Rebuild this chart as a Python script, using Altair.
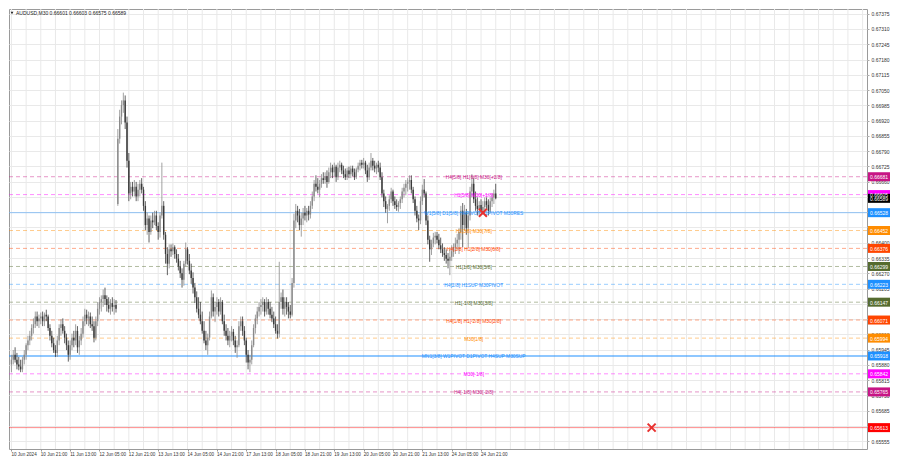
import altair as alt
import pandas as pd

# ---------------- data (prices in points of 0.00001, one bar per hour) ----------------
HEADER_TEXT = "AUDUSD,M30  0.66601 0.66603 0.66575 0.66589"

OPEN_PTS = [
    65882, 65902, 65923, 65902, 65882, 65873, 65861, 65902, 65923, 65964,
    65984, 66004, 66037, 66053, 66086, 66066, 66078, 66086, 66066, 66094,
    66086, 66037, 66004, 65972, 65943, 65931, 65984, 66037, 66053, 66025,
    65996, 65964, 65923, 65964, 65996, 65984, 66025, 65955, 65984, 66013,
    66066, 66094, 66078, 66086, 66053, 66045, 65996, 66066, 66119, 66148,
    66160, 66176, 66160, 66135, 66119, 66143, 66127, 66135, 66565, 66843,
    66937, 66986, 67006, 66912, 66749, 66610, 66638, 66618, 66638, 66597,
    66626, 66651, 66626, 66557, 66475, 66503, 66446, 66495, 66487, 66516,
    66471, 66446, 66516, 66557, 66434, 66352, 66311, 66372, 66364, 66381,
    66352, 66332, 66299, 66270, 66242, 66311, 66372, 66323, 66282, 66250,
    66209, 66168, 66119, 66094, 66066, 66025, 65984, 65964, 65996, 66086,
    66168, 66107, 66127, 66148, 66107, 66148, 66066, 66025, 66004, 65984,
    66004, 66021, 65984, 65955, 65964, 66045, 66066, 66025, 65984, 65923,
    65890, 65902, 65964, 66037, 66078, 66107, 66127, 66135, 66148, 66107,
    66148, 66119, 66094, 66078, 66053, 66025, 66013, 66148, 66168, 66119,
    66148, 66127, 66107, 66094, 66229, 66495, 66536, 66516, 66475, 66503,
    66528, 66516, 66536, 66520, 66557, 66597, 66651, 66638, 66626, 66651,
    66675, 66667, 66683, 66659, 66700, 66720, 66700, 66724, 66679, 66720,
    66732, 66708, 66692, 66679, 66708, 66692, 66716, 66700, 66679, 66712,
    66728, 66741, 66732, 66741, 66708, 66679, 66720, 66749, 66728, 66716,
    66732, 66720, 66679, 66610, 66577, 66544, 66557, 66585, 66618, 66577,
    66561, 66552, 66569, 66585, 66618, 66634, 66651, 66659, 66667, 66626,
    66585, 66536, 66503, 66495, 66577, 66626, 66610, 66495, 66413, 66372,
    66397, 66422, 66430, 66413, 66389, 66372, 66356, 66348, 66332, 66323,
    66340, 66364, 66381, 66397, 66413, 66446, 66536, 66475, 66528, 66462,
    66516, 66618, 66651, 66585, 66557, 66544, 66561, 66536, 66552, 66577,
    66561, 66536, 66577, 66593, 66610,
]
HIGH_PTS = [
    65923, 65943, 65955, 65931, 65914, 65902, 65914, 65943, 65972, 66004,
    66025, 66053, 66078, 66107, 66107, 66094, 66103, 66107, 66103, 66115,
    66094, 66053, 66025, 65996, 65964, 66004, 66053, 66074, 66078, 66045,
    66013, 65984, 65984, 66013, 66025, 66053, 66045, 66004, 66037, 66086,
    66119, 66115, 66107, 66103, 66086, 66066, 66086, 66148, 66168, 66176,
    66201, 66209, 66176, 66168, 66160, 66168, 66160, 66156, 66884, 66966,
    67006, 67039, 67027, 66937, 66782, 66659, 66659, 66667, 66659, 66651,
    66667, 66675, 66638, 66577, 66528, 66516, 66516, 66528, 66536, 66536,
    66487, 66528, 66741, 66577, 66446, 66381, 66393, 66393, 66397, 66389,
    66372, 66352, 66323, 66291, 66323, 66401, 66381, 66352, 66311, 66274,
    66229, 66193, 66168, 66148, 66107, 66066, 66025, 66013, 66107, 66197,
    66184, 66148, 66168, 66160, 66168, 66156, 66094, 66053, 66037, 66025,
    66045, 66033, 66004, 65984, 66066, 66086, 66086, 66045, 65996, 65943,
    65923, 65984, 66053, 66094, 66127, 66148, 66160, 66168, 66160, 66168,
    66160, 66148, 66127, 66107, 66086, 66053, 66319, 66188, 66201, 66168,
    66168, 66148, 66135, 66250, 66524, 66565, 66557, 66544, 66528, 66548,
    66557, 66548, 66557, 66577, 66618, 66667, 66687, 66675, 66667, 66692,
    66700, 66700, 66708, 66720, 66741, 66732, 66741, 66732, 66741, 66749,
    66741, 66728, 66716, 66720, 66724, 66728, 66728, 66716, 66720, 66741,
    66753, 66753, 66761, 66749, 66732, 66741, 66782, 66761, 66749, 66741,
    66749, 66741, 66700, 66626, 66597, 66565, 66602, 66634, 66626, 66597,
    66585, 66577, 66597, 66634, 66651, 66667, 66675, 66687, 66687, 66638,
    66597, 66557, 66520, 66597, 66647, 66671, 66618, 66516, 66430, 66413,
    66442, 66446, 66446, 66438, 66422, 66397, 66381, 66372, 66356, 66372,
    66389, 66397, 66422, 66438, 66462, 66557, 66569, 66561, 66544, 66528,
    66638, 66692, 66675, 66618, 66593, 66577, 66585, 66577, 66593, 66593,
    66585, 66593, 66610, 66626, 66651,
]
LOW_PTS = [
    65849, 65882, 65890, 65861, 65857, 65849, 65849, 65882, 65902, 65943,
    65964, 65984, 66013, 66037, 66045, 66037, 66053, 66045, 66045, 66066,
    66025, 65984, 65955, 65931, 65914, 65914, 65964, 66004, 66013, 65972,
    65943, 65894, 65902, 65943, 65955, 65964, 65931, 65923, 65964, 65996,
    66045, 66053, 66045, 66037, 66025, 65976, 65984, 66045, 66094, 66107,
    66127, 66135, 66107, 66103, 66094, 66107, 66094, 66103, 66557, 66822,
    66904, 66953, 66884, 66720, 66577, 66585, 66597, 66597, 66577, 66577,
    66597, 66610, 66536, 66454, 66434, 66401, 66434, 66462, 66475, 66454,
    66413, 66422, 66503, 66413, 66311, 66262, 66291, 66340, 66348, 66332,
    66315, 66282, 66250, 66209, 66217, 66299, 66307, 66266, 66225, 66184,
    66143, 66103, 66078, 66053, 66013, 65972, 65943, 65923, 65984, 66078,
    66086, 66062, 66094, 66086, 66094, 66053, 66004, 65984, 65964, 65955,
    65980, 65964, 65931, 65910, 65955, 66025, 66004, 65964, 65890, 65861,
    65849, 65882, 65955, 66013, 66053, 66086, 66094, 66107, 66086, 66094,
    66094, 66078, 66062, 66037, 66013, 65992, 65996, 66119, 66094, 66086,
    66094, 66078, 66078, 66086, 66209, 66462, 66487, 66454, 66426, 66475,
    66495, 66487, 66495, 66503, 66544, 66577, 66618, 66610, 66593, 66634,
    66651, 66651, 66634, 66651, 66675, 66675, 66683, 66659, 66667, 66700,
    66692, 66675, 66667, 66667, 66675, 66675, 66683, 66667, 66671, 66700,
    66708, 66716, 66716, 66692, 66659, 66667, 66708, 66708, 66700, 66692,
    66700, 66667, 66593, 66552, 66528, 66483, 66536, 66569, 66557, 66544,
    66536, 66532, 66544, 66569, 66593, 66602, 66618, 66626, 66610, 66569,
    66516, 66487, 66454, 66479, 66561, 66593, 66475, 66393, 66319, 66348,
    66381, 66393, 66397, 66372, 66356, 66340, 66323, 66311, 66291, 66262,
    66323, 66340, 66352, 66372, 66352, 66413, 66381, 66454, 66434, 66381,
    66495, 66593, 66569, 66536, 66516, 66520, 66528, 66524, 66528, 66544,
    66516, 66528, 66552, 66565, 66585,
]
CLOSE_PTS = [
    65902, 65923, 65902, 65882, 65873, 65861, 65902, 65923, 65964, 65984,
    66004, 66037, 66053, 66086, 66066, 66078, 66086, 66066, 66094, 66086,
    66037, 66004, 65972, 65943, 65931, 65984, 66037, 66053, 66025, 65996,
    65964, 65923, 65964, 65996, 65984, 66025, 65955, 65984, 66013, 66066,
    66094, 66078, 66086, 66053, 66045, 65996, 66066, 66119, 66148, 66160,
    66176, 66160, 66135, 66119, 66143, 66127, 66135, 66119, 66843, 66937,
    66986, 67006, 66912, 66749, 66610, 66638, 66618, 66638, 66597, 66626,
    66651, 66626, 66557, 66475, 66503, 66446, 66495, 66487, 66516, 66471,
    66446, 66516, 66557, 66434, 66352, 66311, 66372, 66364, 66381, 66352,
    66332, 66299, 66270, 66242, 66311, 66372, 66323, 66282, 66250, 66209,
    66168, 66119, 66094, 66066, 66025, 65984, 65964, 65996, 66086, 66168,
    66107, 66127, 66148, 66107, 66148, 66066, 66025, 66004, 65984, 66004,
    66021, 65984, 65955, 65964, 66045, 66066, 66025, 65984, 65923, 65890,
    65902, 65964, 66037, 66078, 66107, 66127, 66135, 66148, 66107, 66148,
    66119, 66094, 66078, 66053, 66025, 66013, 66148, 66168, 66119, 66148,
    66127, 66107, 66094, 66229, 66495, 66536, 66516, 66475, 66503, 66528,
    66516, 66536, 66520, 66557, 66597, 66651, 66638, 66626, 66651, 66675,
    66667, 66683, 66659, 66700, 66720, 66700, 66724, 66679, 66720, 66732,
    66708, 66692, 66679, 66708, 66692, 66716, 66700, 66679, 66712, 66728,
    66741, 66732, 66741, 66708, 66679, 66720, 66749, 66728, 66716, 66732,
    66720, 66679, 66610, 66577, 66544, 66557, 66585, 66618, 66577, 66561,
    66552, 66569, 66585, 66618, 66634, 66651, 66659, 66667, 66626, 66585,
    66536, 66503, 66495, 66577, 66626, 66610, 66495, 66413, 66372, 66397,
    66422, 66430, 66413, 66389, 66372, 66356, 66348, 66332, 66323, 66340,
    66364, 66381, 66397, 66413, 66446, 66536, 66475, 66528, 66462, 66516,
    66618, 66651, 66585, 66557, 66544, 66561, 66536, 66552, 66577, 66561,
    66536, 66577, 66593, 66610, 66589,
]
POINT = 1e-5

TIME_LABELS = [
    "10 Jun 2024", "10 Jun 21:00", "11 Jun 13:00", "12 Jun 05:00", "12 Jun 21:00",
    "13 Jun 13:00", "14 Jun 05:00", "14 Jun 21:00", "17 Jun 13:00", "18 Jun 05:00",
    "18 Jun 21:00", "19 Jun 13:00", "20 Jun 05:00", "20 Jun 21:00", "21 Jun 13:00",
    "24 Jun 05:00", "24 Jun 21:00",
]
BARS_PER_LABEL = 16
BARS_PER_GRID = 8

Y_TICKS = [
    0.67375, 0.67310, 0.67245, 0.67180, 0.67115, 0.67050, 0.66985, 0.66920,
    0.66855, 0.66790, 0.66725, 0.66660, 0.66595, 0.66530, 0.66465, 0.66400,
    0.66335, 0.66270, 0.66205, 0.66140, 0.66075, 0.66010, 0.65945, 0.65880,
    0.65815, 0.65750, 0.65685, 0.65620, 0.65555,
]

LEVEL_PRICES = [0.66681, 0.66605, 0.66528, 0.66452, 0.66376, 0.66299, 0.66223,
                0.66147, 0.66071, 0.65994, 0.65918, 0.65842, 0.65765, 0.65613]
LEVEL_TEXTS = [
    "H4[5/8] H1[6/8] M30[+2/8]",
    "H1[5/8] M30[+1/8]",
    "W1[5/8] D1[5/8] H4PIVOT H1PIVOT M30RES",
    "H1[3/8] M30[7/8]",
    "H4[3/8] H1[2/8] M30[6/8]",
    "H1[1/8] M30[5/8]",
    "H4[2/8] H1SUP M30PIVOT",
    "H1[-1/8] M30[3/8]",
    "H4[1/8] H1[-2/8] M30[2/8]",
    "M30[1/8]",
    "MN1[3/8] W1PIVOT D1PIVOT H4SUP M30SUP",
    "M30[-1/8]",
    "H4[-1/8] M30[-2/8]",
    "",
]
LEVEL_COLORS = ["#c71585", "#ff00ff", "#1e90ff", "#ff8c00", "#ff4500", "#556b2f",
                "#1e90ff", "#556b2f", "#ff4500", "#ff8c00", "#1e90ff", "#ff00ff",
                "#c71585", "#ff0000"]
LEVEL_KIND = ["dash", "dash", "solid", "dash", "dash", "dash", "dash",
              "dash", "dash", "dash", "thick", "dash", "dash", "solid"]

CURRENT_PRICE = 0.66589
CROSS_BARS = [257, 349]
CROSS_PRICES = [0.66528, 0.65613]
LABEL_BAR = 252

# ---------------- frames ----------------
bars = pd.DataFrame({
    "bar": list(range(len(CLOSE_PTS))),
    "o": [v * POINT for v in OPEN_PTS],
    "h": [v * POINT for v in HIGH_PTS],
    "l": [v * POINT for v in LOW_PTS],
    "c": [v * POINT for v in CLOSE_PTS],
})
bars["dir"] = ["up" if c >= o else "down" for o, c in zip(bars["o"], bars["c"])]

levels = pd.DataFrame({"price": LEVEL_PRICES, "text": LEVEL_TEXTS,
                       "color": LEVEL_COLORS, "kind": LEVEL_KIND})
tags = pd.DataFrame({"price": LEVEL_PRICES + [CURRENT_PRICE],
                     "color": LEVEL_COLORS + ["#000000"]})
crosses = pd.DataFrame({"bar": CROSS_BARS, "price": CROSS_PRICES})
grid_df = pd.DataFrame({"bar": list(range(0, 465, BARS_PER_GRID))})
time_df = pd.DataFrame({"bar": [i * BARS_PER_LABEL for i in range(len(TIME_LABELS))],
                        "label": TIME_LABELS})

W, H = 858, 440
xs = alt.Scale(domain=[-1.33, 466.4], nice=False, zero=False)
ys = alt.Scale(domain=[0.65522, 0.67395], nice=False, zero=False)

x_axis = alt.Axis(
    values=[i * BARS_PER_LABEL for i in range(len(TIME_LABELS))],
    labels=False, tickSize=2, tickColor="#999", grid=False, domain=False, title=None,
)
y_axis = alt.Axis(
    orient="right", values=Y_TICKS, format=".5f", labelFontSize=5, labelColor="#333",
    labelPadding=2, tickSize=2, tickColor="#aaa", grid=True, gridColor="#e9e9e9",
    domain=False, title=None, labelOverlap=False, zindex=0, labelFont="Liberation Sans",
)

X = alt.X("bar:Q", scale=xs, axis=x_axis)
Y = lambda f: alt.Y(f, scale=ys, axis=y_axis)

vgrid = alt.Chart(grid_df).mark_rule(color="#e9e9e9", strokeWidth=1).encode(x=X)

time_labels = alt.Chart(time_df).mark_text(
    fontSize=4.6, align="left", baseline="top", color="#333", font="Liberation Sans", dy=3
).encode(x=X, y=alt.value(H), text="label:N")

dash_lines = alt.Chart(levels).transform_filter("datum.kind == 'dash'").mark_rule(
    strokeDash=[4, 3], strokeWidth=1, opacity=0.45
).encode(y=Y("price:Q"), color=alt.Color("color:N", scale=None))
solid_lines = alt.Chart(levels).transform_filter("datum.kind == 'solid'").mark_rule(
    strokeWidth=1, opacity=0.45
).encode(y=Y("price:Q"), color=alt.Color("color:N", scale=None))
thick_lines = alt.Chart(levels).transform_filter("datum.kind == 'thick'").mark_rule(
    strokeWidth=2, opacity=0.5
).encode(y=Y("price:Q"), color=alt.Color("color:N", scale=None))

wicks = alt.Chart(bars).mark_rule(strokeWidth=0.8).encode(
    x=X, y=Y("l:Q"), y2="h:Q",
    color=alt.Color("dir:N", scale=alt.Scale(domain=["up", "down"], range=["#8a8a8a", "#3a3a3a"]), legend=None),
)
bodies = alt.Chart(bars).mark_rule(strokeWidth=1.4).encode(
    x=X, y=Y("o:Q"), y2="c:Q",
    color=alt.Color("dir:N", scale=alt.Scale(domain=["up", "down"], range=["#5a5a5a", "#151515"]), legend=None),
)

level_text = alt.Chart(levels).mark_text(
    fontSize=4.9, align="center", baseline="middle", dy=1.5, font="Liberation Sans"
).encode(x=alt.X(datum=LABEL_BAR, scale=xs, axis=x_axis), y=Y("price:Q"), text="text:N",
         color=alt.Color("color:N", scale=None))

cross_marks = alt.Chart(crosses).mark_point(
    shape="M-1,-1L1,1M-1,1L1,-1", filled=False, size=64, strokeWidth=2,
    color="#e8312f", opacity=1
).encode(x=X, y=Y("price:Q"))

tag_boxes = alt.Chart(tags).mark_point(
    shape="M-1.1,-0.45L1.1,-0.45L1.1,0.45L-1.1,0.45Z", filled=True, size=400, opacity=1, strokeWidth=0
).encode(x=alt.value(W + 12), y=Y("price:Q"), color=alt.Color("color:N", scale=None))
tag_text = alt.Chart(tags).mark_text(
    fontSize=5, color="white", align="center", baseline="middle", dy=0.5, font="Liberation Sans"
).encode(x=alt.value(W + 12), y=Y("price:Q"), text=alt.Text("price:Q", format=".5f"))

header_df = pd.DataFrame({"t": [HEADER_TEXT]})
header = alt.Chart(header_df).mark_text(
    fontSize=5, align="left", baseline="middle", color="#222", font="Liberation Sans"
).encode(x=alt.value(7), y=alt.value(4), text="t:N")
header_tri = alt.Chart(header_df).mark_point(
    shape="triangle-down", filled=True, size=8, color="#222", opacity=1
).encode(x=alt.value(3), y=alt.value(4))

chart = alt.layer(
    vgrid, dash_lines, solid_lines, thick_lines, wicks, bodies, level_text,
    cross_marks, tag_boxes, tag_text, time_labels, header, header_tri,
).properties(
    width=W, height=H, padding={"left": 0, "top": 0, "right": 0, "bottom": 8},
    background="white",
).configure_view(stroke="#9a9a9a", strokeWidth=1)

chart.save("out.html", embed_options={"renderer": "svg", "actions": False})
